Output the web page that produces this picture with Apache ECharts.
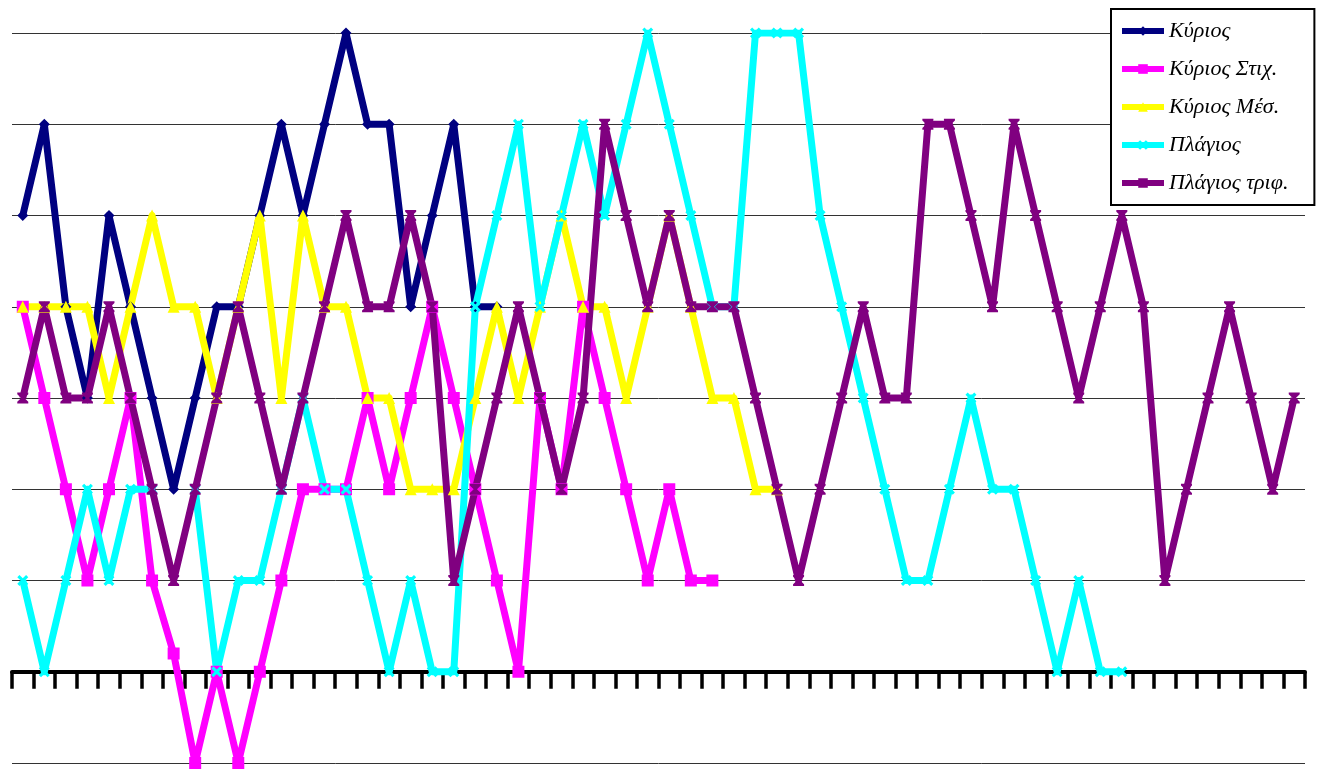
<!DOCTYPE html>
<html>
<head>
<meta charset="utf-8">
<script src="https://cdn.jsdelivr.net/npm/echarts@6/dist/echarts.min.js"></script>
<style>
html,body{margin:0;padding:0;background:#fff;}
#chart{width:1322px;height:770px;}
</style>
</head>
<body>
<div id="chart"></div>
<script>
// ---- data ----
var categories = [];
for (var c = 1; c <= 60; c++) categories.push(String(c));

var seriesNames = ['Κύριος', 'Κύριος Στιχ.', 'Κύριος Μέσ.', 'Πλάγιος', 'Πλάγιος τριφ.'];

var kyrios = [5,6,4,3,5,4,3,2,3,4,4,5,6,5,6,7,6,6,4,5,6,4,4];
var kyriosStix = [4,3,2,1,2,3,1,0.2,-1,0,-1,0,1,2,2,2,3,2,3,4,3,2,1,0,3,2,4,3,2,1,2,1,1];
var kyriosMes = [4,4,4,4,3,4,5,4,4,3,4,5,3,5,4,4,3,3,2,2,2,3,4,3,4,5,4,4,3,4,5,4,3,3,2,2];
var plagios = [1,0,1,2,1,2,2,null,2,0,1,1,2,3,2,2,1,0,1,0,0,4,5,6,4,5,6,5,6,7,6,5,4,4,7,7,7,5,4,3,2,1,1,2,3,2,2,1,0,1,0,0];
var plagiosTrif = [3,4,3,3,4,3,2,1,2,3,4,3,2,3,4,5,4,4,5,4,1,2,3,4,3,2,3,6,5,4,5,4,4,4,3,2,1,2,3,4,3,3,6,6,5,4,6,5,4,3,4,5,4,1,2,3,4,3,2,3];

var yMin = -1, yMax = 7, yStep = 1;

// ---- styles ----
var crossPath = 'path://M2,0L5,3L8,0L10,2L7,5L10,8L8,10L5,7L2,10L0,8L3,5L0,2Z';
var starPath = 'path://M0,0L10,0L10,1.5L6.5,5L10,8.5L10,10L0,10L0,8.5L3.5,5L0,1.5Z';

function mk(name, data, color, symbol, size) {
  return {
    name: name,
    type: 'line',
    data: data,
    symbol: symbol,
    symbolSize: size,
    showAllSymbol: true,
    connectNulls: false,
    animation: false,
    lineStyle: { color: color, width: 7, join: 'round', cap: 'butt' },
    itemStyle: { color: color },
    emphasis: { disabled: true }
  };
}

var chart = echarts.init(document.getElementById('chart'), null, { renderer: 'canvas' });
chart.setOption({
  backgroundColor: '#fff',
  animation: false,
  grid: { left: 12, right: 17, top: 33, bottom: 7, containLabel: false },
  legend: {
    orient: 'vertical',
    left: 1111,
    top: 9,
    padding: [11, 26, 11, 8],
    itemWidth: 42,
    itemHeight: 12,
    itemGap: 16,
    backgroundColor: '#fff',
    borderColor: '#000',
    borderWidth: 2,
    borderRadius: 0,
    lineStyle: { width: 6 },
    textStyle: {
      fontFamily: 'Liberation Serif, DejaVu Serif, serif',
      fontStyle: 'italic',
      fontSize: 22,
      lineHeight: 22,
      color: '#000'
    },
    data: seriesNames
  },
  xAxis: {
    type: 'category',
    data: categories,
    boundaryGap: true,
    axisLine: { show: true, onZero: true, lineStyle: { color: '#000', width: 4 } },
    axisTick: { show: true, interval: 0, length: 17, lineStyle: { color: '#000', width: 3.5 } },
    axisLabel: { show: false },
    splitLine: { show: false }
  },
  yAxis: {
    type: 'value',
    min: yMin,
    max: yMax,
    interval: yStep,
    axisLine: { show: false },
    axisTick: { show: false },
    axisLabel: { show: false },
    splitLine: { show: true, lineStyle: { color: '#333', width: 1 } }
  },
  series: [
    mk(seriesNames[0], kyrios, '#000080', 'diamond', 11),
    mk(seriesNames[1], kyriosStix, '#FF00FF', 'rect', 12),
    mk(seriesNames[2], kyriosMes, '#FFFF00', 'triangle', 12),
    mk(seriesNames[3], plagios, '#00FFFF', crossPath, 11),
    mk(seriesNames[4], plagiosTrif, '#800080', starPath, 11)
  ]
});
</script>
</body>
</html>
